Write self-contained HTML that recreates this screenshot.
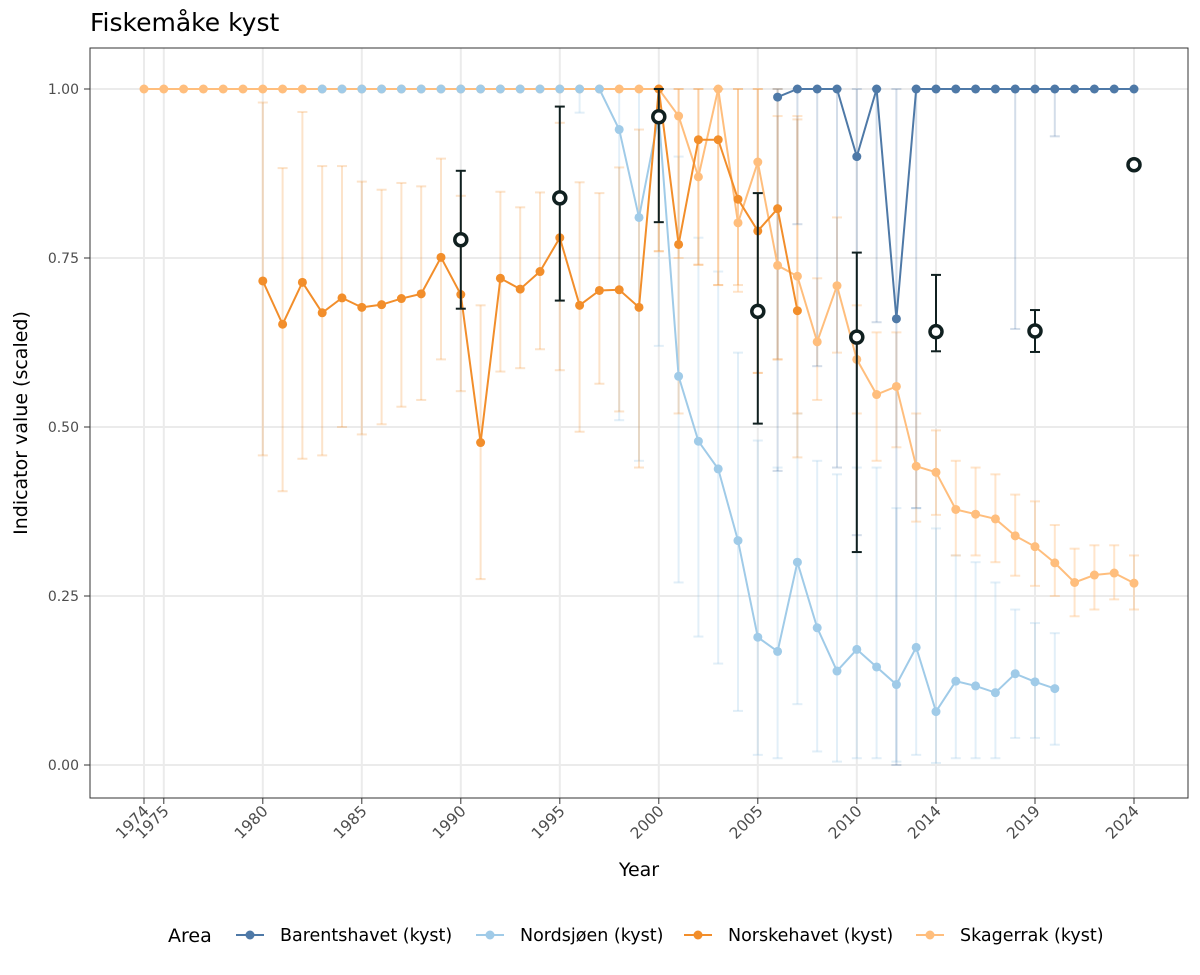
<!DOCTYPE html>
<html><head><meta charset="utf-8"><style>
body{margin:0;background:#fff;}
svg{display:block;font-family:"DejaVu Sans","Liberation Sans",sans-serif;}
</style></head><body>
<svg id="s" width="1200" height="975" xmlns="http://www.w3.org/2000/svg"></svg>
<script>
const s=document.getElementById('s');
let h='';
const X=y=>144+(y-1974)*19.8, Y=v=>765-v*676;
h+='<text x="90" y="31" font-size="25" fill="#000">Fiskemåke kyst</text>';
[0,0.25,0.5,0.75,1].forEach(v=>{h+=`<line x1="90" x2="1188" y1="${Y(v)}" y2="${Y(v)}" stroke="#ebebeb" stroke-width="2"/>`;
h+=`<text x="79" y="${Y(v)+5}" font-size="14" fill="#4d4d4d" text-anchor="end">${v.toFixed(2)}</text>`;
h+=`<line x1="84" x2="90" y1="${Y(v)}" y2="${Y(v)}" stroke="#333"/>`;});
const ticks=[1974,1975,1980,1985,1990,1995,2000,2005,2010,2014,2019,2024];
ticks.forEach(t=>{h+=`<line x1="${X(t)}" x2="${X(t)}" y1="48" y2="798" stroke="#ebebeb" stroke-width="2"/>`;
h+=`<line x1="${X(t)}" x2="${X(t)}" y1="798" y2="804" stroke="#333"/>`;
h+=`<text transform="translate(${X(t)+6},812) rotate(-45)" font-size="15.5" fill="#4d4d4d" text-anchor="end">${t}</text>`;});
function series(col,pts,errs,eo){
  errs.forEach(([y,lo,hi])=>{const x=X(y);h+=`<g stroke="${col}" stroke-opacity="${eo}" stroke-width="2"><line x1="${x}" x2="${x}" y1="${Y(lo)}" y2="${Y(hi)}"/><line x1="${x-5}" x2="${x+5}" y1="${Y(lo)}" y2="${Y(lo)}"/><line x1="${x-5}" x2="${x+5}" y1="${Y(hi)}" y2="${Y(hi)}"/></g>`;});
  return [()=>{h+=`<polyline fill="none" stroke="${col}" stroke-width="2" points="${pts.map(p=>X(p[0])+','+Y(p[1])).join(' ')}"/>`;},
  ()=>{pts.forEach(p=>h+=`<circle cx="${X(p[0])}" cy="${Y(p[1])}" r="4.5" fill="${col}"/>`);}];
}
const sk=[];for(let y=1974;y<=1999;y++)sk.push([y,1]);
[[2000,1],[2001,.96],[2002,.87],[2003,1],[2004,.802],[2005,.892],[2006,.739],[2007,.723],[2008,.626],[2009,.709],[2010,.60],[2011,.548],[2012,.56],[2013,.442],[2014,.433],[2015,.378],[2016,.371],[2017,.364],[2018,.339],[2019,.323],[2020,.299],[2021,.27],[2022,.281],[2023,.284],[2024,.269]].forEach(p=>sk.push(p));
const skE=[[2000,.76,1],[2001,.75,1],[2002,.74,1],[2003,.71,1],[2004,.70,1],[2005,.58,1],[2006,.60,.96],[2007,.52,.96],[2008,.54,.72],[2009,.61,.81],[2010,.52,.68],[2011,.45,.64],[2012,.47,.64],[2013,.36,.52],[2014,.37,.495],[2015,.31,.45],[2016,.31,.44],[2017,.30,.43],[2018,.28,.40],[2019,.265,.39],[2020,.25,.355],[2021,.22,.32],[2022,.23,.325],[2023,.245,.325],[2024,.23,.31]];
const ns=[];for(let y=1983;y<=1997;y++)ns.push([y,1]);
[[1998,.94],[1999,.81],[2000,.96],[2001,.575],[2002,.479],[2003,.438],[2004,.332],[2005,.189],[2006,.168],[2007,.3],[2008,.203],[2009,.139],[2010,.171],[2011,.145],[2012,.119],[2013,.174],[2014,.079],[2015,.124],[2016,.117],[2017,.107],[2018,.135],[2019,.123],[2020,.113]].forEach(p=>ns.push(p));
const nsE=[[1996,.965,1],[1998,.51,1],[1999,.45,1],[2000,.62,1],[2001,.27,.9],[2002,.19,.78],[2003,.15,.73],[2004,.08,.61],[2005,.015,.48],[2006,.01,.44],[2007,.09,.52],[2008,.02,.45],[2009,.005,.43],[2010,.01,.44],[2011,.01,.44],[2012,.005,.38],[2013,.015,.38],[2014,.003,.35],[2015,.01,.31],[2016,.01,.30],[2017,.01,.27],[2018,.04,.23],[2019,.04,.21],[2020,.03,.195]];
const nh=[[1980,.716],[1981,.652],[1982,.714],[1983,.669],[1984,.691],[1985,.677],[1986,.681],[1987,.690],[1988,.697],[1989,.751],[1990,.696],[1991,.477],[1992,.720],[1993,.704],[1994,.730],[1995,.780],[1996,.680],[1997,.702],[1998,.703],[1999,.677],[2000,1],[2001,.77],[2002,.925],[2003,.925],[2004,.837],[2005,.79],[2006,.823],[2007,.672]];
const nhE=[[1980,.458,.98],[1981,.405,.883],[1982,.453,.966],[1983,.458,.886],[1984,.5,.886],[1985,.489,.863],[1986,.504,.851],[1987,.53,.861],[1988,.54,.856],[1989,.6,.897],[1990,.553,.842],[1991,.275,.68],[1992,.582,.848],[1993,.587,.825],[1994,.615,.847],[1995,.584,.95],[1996,.493,.862],[1997,.564,.846],[1998,.523,.884],[1999,.44,.94],[2000,.76,1],[2001,.52,1],[2002,.74,1],[2003,.71,1],[2004,.71,1],[2005,.58,1],[2006,.60,1],[2007,.455,.955]];
const bh=[[2006,.988],[2007,1],[2008,1],[2009,1],[2010,.9],[2011,1],[2012,.66]];for(let y=2013;y<=2024;y++)bh.push([y,1]);
const bhE=[[2006,.435,1],[2007,.8,1],[2008,.59,1],[2009,.44,1],[2010,.34,1],[2011,.655,1],[2012,0,1],[2013,.38,1],[2018,.645,1],[2020,.93,1]];
const d1=series('#a0cbe8',ns,nsE,.3), d2=series('#ffbe7d',sk,skE,.4), d3=series('#f28e2b',nh,nhE,.25), d4=series('#4e79a7',bh,bhE,.25);
d1[0]();d2[0]();d3[0]();d4[0]();
d2[1]();d1[1]();d3[1]();d4[1]();
[[1990,.777,.675,.879],[1995,.839,.687,.974],[2000,.959,.803,1.0],[2005,.671,.505,.846],[2010,.633,.315,.758],[2014,.641,.612,.725],[2019,.642,.611,.673]].forEach(([y,v,lo,hi])=>{const x=X(y);
h+=`<g stroke="#102020" stroke-width="2"><line x1="${x}" x2="${x}" y1="${Y(lo)}" y2="${Y(hi)}"/><line x1="${x-5}" x2="${x+5}" y1="${Y(lo)}" y2="${Y(lo)}"/><line x1="${x-5}" x2="${x+5}" y1="${Y(hi)}" y2="${Y(hi)}"/></g>`;});
[[1990,.777],[1995,.839],[2000,.959],[2005,.671],[2010,.633],[2014,.641],[2019,.642],[2024,.888]].forEach(([y,v])=>h+=`<circle cx="${X(y)}" cy="${Y(v)}" r="6" fill="#fff" stroke="#102020" stroke-width="3.5"/>`);
h+='<rect x="90" y="48" width="1098" height="750" fill="none" stroke="#333" stroke-width="1"/>';
h+='<text x="639" y="876" font-size="19" text-anchor="middle">Year</text>';
h+='<text transform="translate(27,423) rotate(-90)" font-size="19" text-anchor="middle">Indicator value (scaled)</text>';
h+='<text x="168" y="942" font-size="19">Area</text>';
[[236,'#4e79a7','Barentshavet (kyst)'],[476,'#a0cbe8','Nordsjøen (kyst)'],[684,'#f28e2b','Norskehavet (kyst)'],[916,'#ffbe7d','Skagerrak (kyst)']].forEach(([x,c,t])=>{
h+=`<line x1="${x}" x2="${x+28}" y1="935" y2="935" stroke="${c}" stroke-width="2"/><circle cx="${x+14}" cy="935" r="4.5" fill="${c}"/><text x="${x+44}" y="941" font-size="17.5">${t}</text>`;});
s.innerHTML=h;
</script>
</body></html>
